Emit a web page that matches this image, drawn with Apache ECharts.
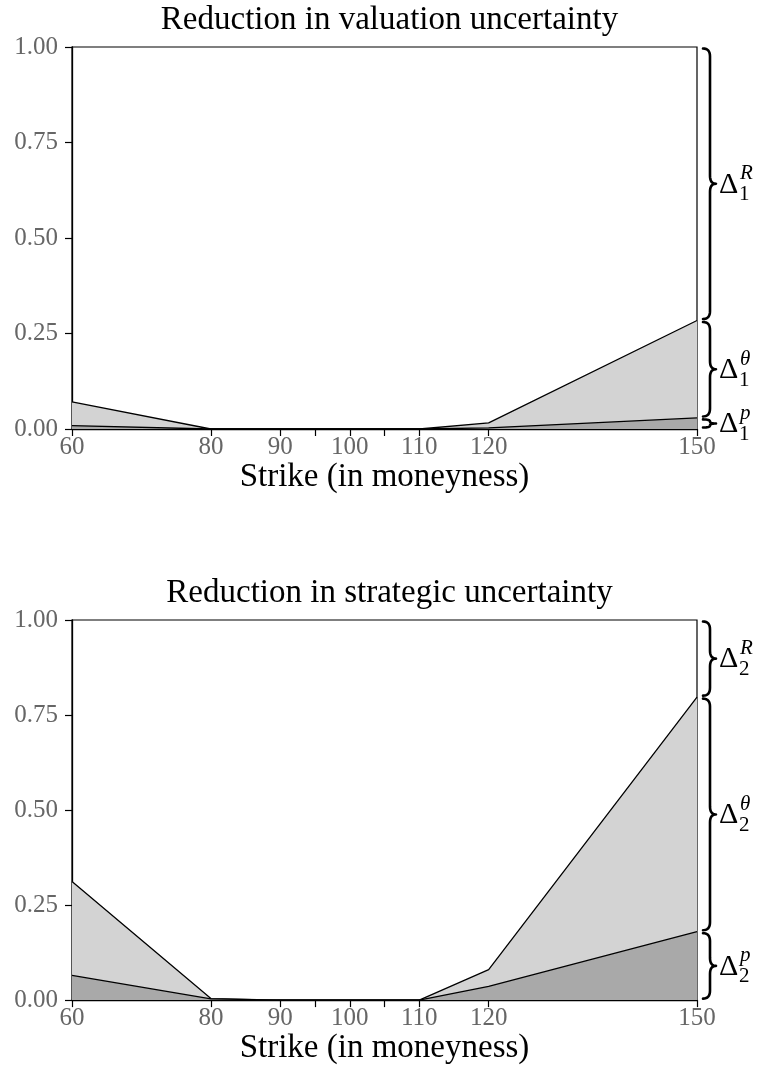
<!DOCTYPE html>
<html>
<head>
<meta charset="utf-8">
<script src="https://cdn.jsdelivr.net/npm/echarts@6/dist/echarts.min.js"></script>
<style>
html,body{margin:0;padding:0;background:#fff;}
#chart{width:765px;height:1066px;}
</style>
</head>
<body>
<div id="chart"></div>
<script>
// ---- data ----
const strikes = [60, 80, 90, 100, 110, 120, 150];
const xTickValues = [60, 80, 90, 95, 100, 105, 110, 120, 150];
const xLabelValues = [60, 80, 90, 100, 110, 120, 150];
const titles = ['Reduction in valuation uncertainty', 'Reduction in strategic uncertainty'];
const xAxisTitle = 'Strike (in moneyness)';
// panel 1 (valuation): Δ1^p (dark) and cumulative Δ1^p + Δ1^θ (light top edge)
const valP     = [0.009, 0, 0, 0, 0, 0.003, 0.029];
const valTotal = [0.071, 0, 0, 0, 0, 0.016, 0.284];
// panel 2 (strategic)
const strP     = [0.065, 0.003, 0, 0, 0, 0.036, 0.180];
const strTotal = [0.312, 0.004, 0, 0, 0, 0.080, 0.797];
const braceSup = ['R', 'θ', 'p'];

const SERIF = '"Liberation Serif", "DejaVu Serif", serif';
const TICK_FS = 25, LABEL_FS = 33;
const chart = echarts.init(document.getElementById('chart'), null, {renderer: 'canvas'});

const grids = [
  {left: 72, top: 47, width: 625, height: 382},
  {left: 72, top: 620, width: 625, height: 382}
];

function xAxisFor(i) {
  return {
    type: 'value', gridIndex: i, min: 60, max: 150,
    axisLine: {show: true, lineStyle: {color: '#000', width: 1.3}},
    axisTick: {show: true, customValues: xTickValues, length: 7, lineStyle: {color: '#000', width: 1.2}},
    axisLabel: {show: true, customValues: xLabelValues, color: '#666', fontSize: TICK_FS, fontFamily: SERIF, margin: 6},
    splitLine: {show: false},
    name: xAxisTitle, nameLocation: 'middle', nameGap: 25,
    nameTextStyle: {color: '#000', fontSize: LABEL_FS, fontFamily: SERIF, verticalAlign: 'top'}
  };
}
function yAxisFor(i) {
  return {
    type: 'value', gridIndex: i, min: 0, max: 1, interval: 0.25,
    axisLine: {show: true, lineStyle: {color: '#000', width: 1.3}},
    axisTick: {show: true, length: 7, lineStyle: {color: '#000', width: 1.2}},
    axisLabel: {color: '#666', fontSize: TICK_FS, fontFamily: SERIF, margin: 14,
      formatter: v => v.toFixed(2)},
    splitLine: {show: false}
  };
}
function pair(i, pVals, totVals) {
  const common = {type: 'line', xAxisIndex: i, yAxisIndex: i, symbol: 'none',
    lineStyle: {color: '#000', width: 1.3}, silent: true};
  return [
    Object.assign({}, common, {name: 'total' + i, z: 2, data: strikes.map((x, k) => [x, totVals[k]]),
      areaStyle: {color: '#d3d3d3', opacity: 1}}),
    Object.assign({}, common, {name: 'p' + i, z: 3, data: strikes.map((x, k) => [x, pVals[k]]),
      areaStyle: {color: '#a9a9a9', opacity: 1}})
  ];
}

chart.setOption({
  animation: false,
  backgroundColor: '#fff',
  title: titles.map((t, i) => ({
    text: t, left: grids[i].left + grids[i].width / 2, textAlign: 'center',
    top: grids[i].top - 48,
    textStyle: {color: '#000', fontSize: LABEL_FS, fontWeight: 'normal', fontFamily: SERIF}
  })),
  grid: grids.map(g => Object.assign({show: true, borderColor: '#000', borderWidth: 1.2, backgroundColor: 'transparent'}, g)),
  xAxis: [xAxisFor(0), xAxisFor(1)],
  yAxis: [yAxisFor(0), yAxisFor(1)],
  series: [...pair(0, valP, valTotal), ...pair(1, strP, strTotal)]
});

// ---- braces (positions derived from data through the axes) ----
function quadPts(a, b, c, n) {
  const out = [];
  for (let s = 1; s <= n; s++) {
    const t = s / n, u = 1 - t;
    out.push([u * u * a[0] + 2 * u * t * b[0] + t * t * c[0], u * u * a[1] + 2 * u * t * b[1] + t * t * c[1]]);
  }
  return out;
}
function bracePoints(x0, yT, yB) {
  const xs = x0 + 7, xt = x0 + 13;
  const h = yB - yT;
  const r = Math.min(8, h / 4);
  const ym = (yT + yB) / 2;
  let pts = [[x0, yT]];
  pts = pts.concat(quadPts([x0, yT], [xs, yT], [xs, yT + r], 8));
  pts.push([xs, ym - r]);
  pts = pts.concat(quadPts([xs, ym - r], [xs, ym], [xt, ym], 8));
  pts = pts.concat(quadPts([xt, ym], [xs, ym], [xs, ym + r], 8));
  pts.push([xs, yB - r]);
  pts = pts.concat(quadPts([xs, yB - r], [xs, yB], [x0, yB], 8));
  return pts;
}
const graphics = [];
[[valP, valTotal], [strP, strTotal]].forEach(([pv, tv], i) => {
  const last = strikes.length - 1;
  const levels = [1, tv[last], pv[last], 0];
  const px = levels.map(v => chart.convertToPixel({gridIndex: i}, [150, v]));
  const x0 = px[0][0] + 6;
  for (let k = 0; k < 3; k++) {
    const yT = px[k][1] + 1.5, yB = px[k + 1][1] - 1.5;
    const ym = (yT + yB) / 2;
    graphics.push({type: 'polyline', shape: {points: bracePoints(x0, yT, yB)},
      style: {stroke: '#000', lineWidth: 2.6, fill: null, lineJoin: 'round', lineCap: 'round'}, silent: true});
    graphics.push({type: 'text', x: x0 + 16, y: ym + 1,
      style: {text: 'Δ', fontSize: 30, fontFamily: SERIF, fill: '#000', align: 'left', verticalAlign: 'middle'}});
    graphics.push({type: 'text', x: x0 + 37, y: ym - 10,
      style: {text: braceSup[k], fontSize: 21, fontStyle: 'italic', fontFamily: SERIF, fill: '#000', align: 'left', verticalAlign: 'middle'}});
    graphics.push({type: 'text', x: x0 + 36, y: ym + 11,
      style: {text: String(i + 1), fontSize: 21, fontFamily: SERIF, fill: '#000', align: 'left', verticalAlign: 'middle'}});
  }
});
chart.setOption({graphic: graphics});
</script>
</body>
</html>
